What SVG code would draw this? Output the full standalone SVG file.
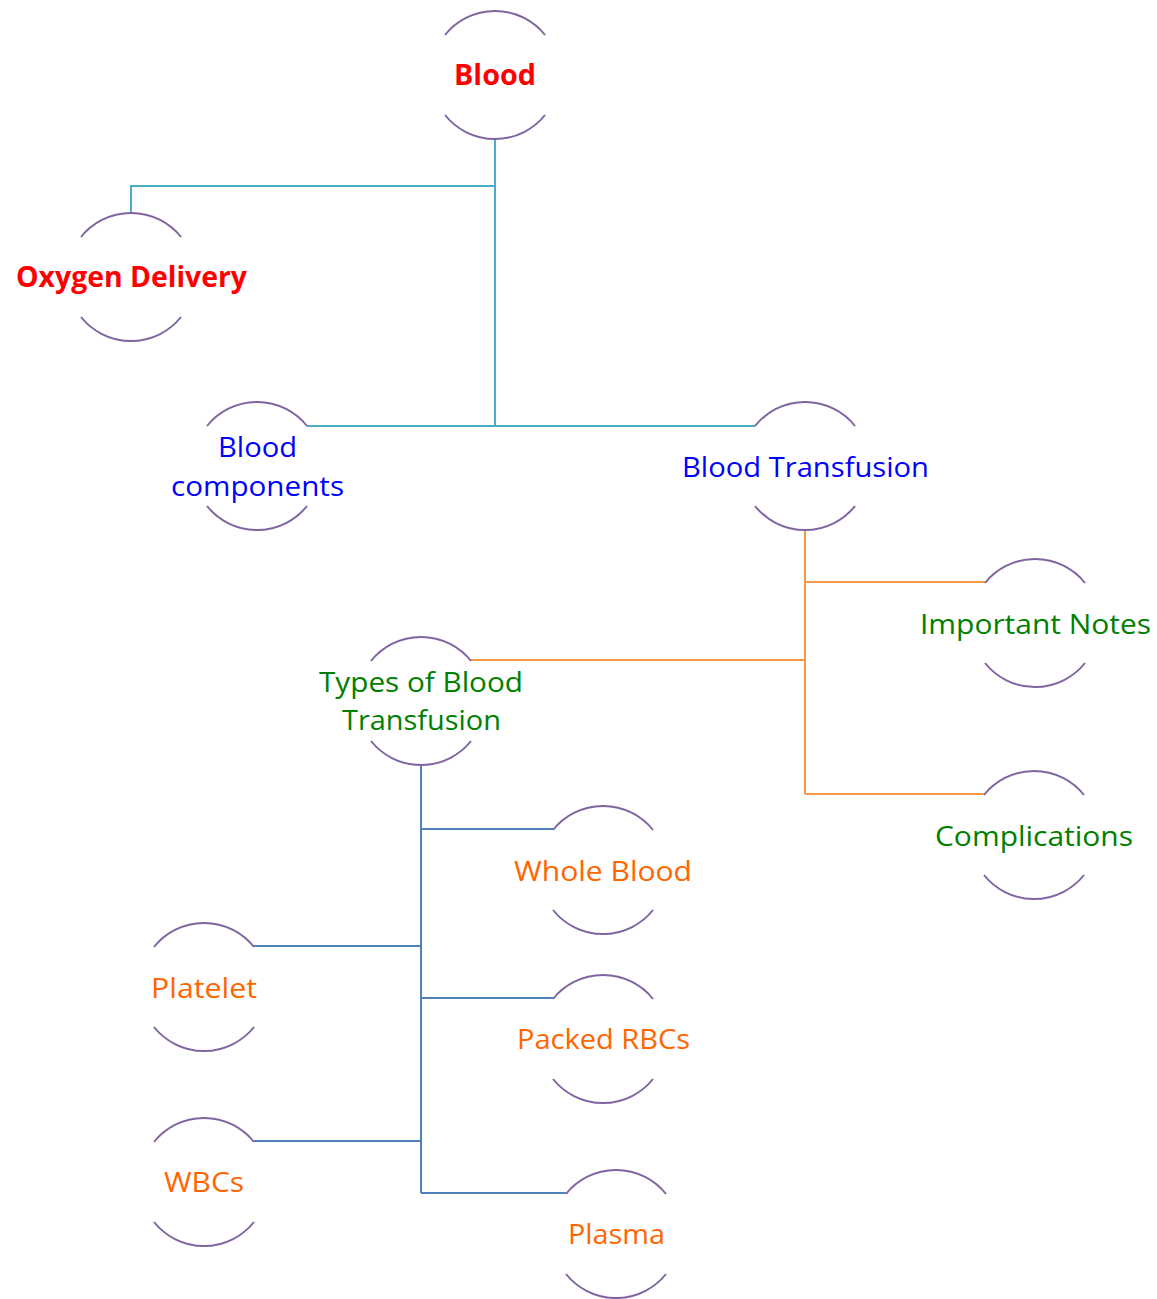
<svg xmlns="http://www.w3.org/2000/svg" xmlns:xlink="http://www.w3.org/1999/xlink" width="1157" height="1299" viewBox="0 0 1157 1299">
<style>
.arc{fill:none;stroke:#8064A2;stroke-width:2}
.t{font-family:"Open Sans","Noto Sans","Liberation Sans",sans-serif;font-size:28px;text-anchor:middle}
.b{font-weight:bold}
.red{fill:#FF0000}.blue{fill:#0000FF}.green{fill:#008000}.orange{fill:#FF6600}
.c1{fill:none;stroke:#4BACC6;stroke-width:2}
.c2{fill:none;stroke:#F79646;stroke-width:2}
.c3{fill:none;stroke:#4F81BD;stroke-width:2}
</style>
<defs>
<path id="ring" class="arc" d="M-50,-40 A64,64 0 0 1 50,-40 M-50,40 A64,64 0 0 0 50,40"/>
</defs>
<rect width="1157" height="1299" fill="#FFFFFF"/>
<g id="connectors">
<path class="c1" d="M495,139 V426 M131,213 V186 H495 M307,426 H755"/>
<path class="c2" d="M805,530 V794 M805,582 H985 M471,660 H805 M805,794 H984"/>
<path class="c3" d="M421,765 V1193 M421,829 H553 M254,946 H421 M421,998 H553 M254,1141 H421 M421,1193 H566"/>
</g>
<g id="node-blood"><use xlink:href="#ring" transform="translate(495,75)"/><text class="t b red" x="495" y="85" textLength="82" lengthAdjust="spacingAndGlyphs">Blood</text></g>
<g id="node-oxygen"><use xlink:href="#ring" transform="translate(131,277)"/><text class="t b red" x="131.5" y="287" textLength="231" lengthAdjust="spacingAndGlyphs">Oxygen Delivery</text></g>
<g id="node-components"><use xlink:href="#ring" transform="translate(257,466)"/><text class="t blue" x="257.5" y="457" textLength="79" lengthAdjust="spacingAndGlyphs">Blood</text><text class="t blue" x="257.5" y="496" textLength="173" lengthAdjust="spacingAndGlyphs">components</text></g>
<g id="node-transfusion"><use xlink:href="#ring" transform="translate(805,466)"/><text class="t blue" x="805.5" y="477" textLength="247" lengthAdjust="spacingAndGlyphs">Blood Transfusion</text></g>
<g id="node-notes"><use xlink:href="#ring" transform="translate(1035,623)"/><text class="t green" x="1035.5" y="634" textLength="231" lengthAdjust="spacingAndGlyphs">Important Notes</text></g>
<g id="node-types"><use xlink:href="#ring" transform="translate(421,701)"/><text class="t green" x="421" y="692" textLength="204" lengthAdjust="spacingAndGlyphs">Types of Blood</text><text class="t green" x="421.5" y="730" textLength="159" lengthAdjust="spacingAndGlyphs">Transfusion</text></g>
<g id="node-complications"><use xlink:href="#ring" transform="translate(1034,835)"/><text class="t green" x="1034" y="846" textLength="198" lengthAdjust="spacingAndGlyphs">Complications</text></g>
<g id="node-whole"><use xlink:href="#ring" transform="translate(603,870)"/><text class="t orange" x="603" y="881" textLength="178" lengthAdjust="spacingAndGlyphs">Whole Blood</text></g>
<g id="node-platelet"><use xlink:href="#ring" transform="translate(204,987)"/><text class="t orange" x="204" y="998" textLength="106" lengthAdjust="spacingAndGlyphs">Platelet</text></g>
<g id="node-packed"><use xlink:href="#ring" transform="translate(603,1039)"/><text class="t orange" x="603.5" y="1049" textLength="173" lengthAdjust="spacingAndGlyphs">Packed RBCs</text></g>
<g id="node-wbcs"><use xlink:href="#ring" transform="translate(204,1182)"/><text class="t orange" x="204" y="1192" textLength="80" lengthAdjust="spacingAndGlyphs">WBCs</text></g>
<g id="node-plasma"><use xlink:href="#ring" transform="translate(616,1234)"/><text class="t orange" x="616.5" y="1244" textLength="97" lengthAdjust="spacingAndGlyphs">Plasma</text></g>
</svg>
